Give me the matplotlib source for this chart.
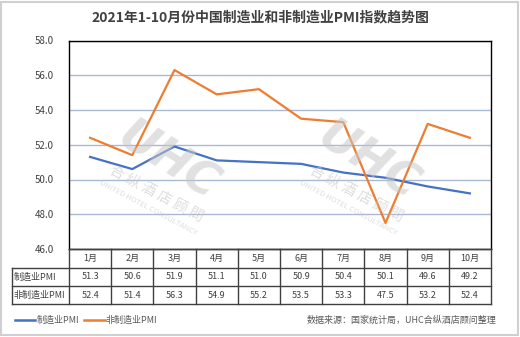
import matplotlib
matplotlib.use("Agg")
import matplotlib.pyplot as plt
from matplotlib.patches import Rectangle

plt.rcParams['font.family'] = ['Noto Sans CJK SC', 'DejaVu Sans']

title = "2021年1-10月份中国制造业和非制造业PMI指数趋势图"
months = ["1月", "2月", "3月", "4月", "5月", "6月", "7月", "8月", "9月", "10月"]
series_names = ["制造业PMI", "非制造业PMI"]
manufacturing = [51.3, 50.6, 51.9, 51.1, 51.0, 50.9, 50.4, 50.1, 49.6, 49.2]
non_manufacturing = [52.4, 51.4, 56.3, 54.9, 55.2, 53.5, 53.3, 47.5, 53.2, 52.4]
y_ticks = [46.0, 48.0, 50.0, 52.0, 54.0, 56.0, 58.0]
source = "数据来源：国家统计局，UHC合纵酒店顾问整理"

colors = ["#4472C4", "#ED7D31"]
W, H = 520, 337
fig = plt.figure(figsize=(W / 100, H / 100), dpi=100)

def fx(px):
    return px / W

def fy(py):
    return 1 - py / H

# outer border
fig.patches.append(Rectangle((fx(1), fy(335)), fx(517), (334 - 1) / H,
                             transform=fig.transFigure, fill=False,
                             edgecolor="#D0D0D0", linewidth=1.5))

fig.text(0.5, fy(17), title, ha="center", va="center", fontsize=10,
         fontweight="bold", color="#404040")

# main axes
L, R, T, B = 69, 491, 40.5, 249
ax = fig.add_axes([fx(L), fy(B), fx(R - L), (B - T) / H])
n = len(months)
xs = [i + 0.5 for i in range(n)]
ax.set_xlim(0, n)
ax.set_ylim(y_ticks[0], y_ticks[-1])
ax.set_yticks(y_ticks)
ax.set_yticklabels([f"{v:.1f}" for v in y_ticks], fontsize=7, color="#404040")
ax.tick_params(axis="y", length=0, pad=11)
ax.set_xticks([])
ax.grid(axis="y", color="#A9B8D3", linewidth=1)
ax.set_axisbelow(True)
for s in ax.spines.values():
    s.set_color("#000000")
    s.set_linewidth(1)

# watermarks
for cx in (168, 368):
    fig.text(fx(cx), fy(162), "UHC", fontsize=33, fontweight="bold",
             fontstyle="italic", color="#C8C8C8", alpha=0.55, rotation=-32,
             ha="center", va="center", family=["DejaVu Sans"])
    fig.text(fx(cx - 12), fy(194), "合 纵 酒 店 顾 問", fontsize=10.5, color="#C8C8C8",
             alpha=0.6, rotation=-28, ha="center", va="center")
    fig.text(fx(cx - 20), fy(208), "UNITED HOTEL CONSULTANCY", fontsize=5.5,
             color="#C8C8C8", alpha=0.6, rotation=-28, ha="center", va="center")

ax.plot(xs, manufacturing, color=colors[0], linewidth=1.6, zorder=3)
ax.plot(xs, non_manufacturing, color=colors[1], linewidth=1.6, zorder=3)

# data table
tax = fig.add_axes([0, 0, 1, 1])
tax.set_xlim(0, W)
tax.set_ylim(H, 0)
tax.axis("off")
tcol = "#404040"
col_w = (R - L) / n
rows_y = [249, 267.5, 286, 304]
left_tab = 12
tax.plot([L, R], [rows_y[0], rows_y[0]], color=tcol, lw=1)
for y in rows_y[1:]:
    tax.plot([left_tab, R], [y, y], color=tcol, lw=1)
for i in range(n + 1):
    x = L + i * col_w
    tax.plot([x, x], [rows_y[0], rows_y[-1]], color=tcol, lw=1)
tax.plot([left_tab, left_tab], [rows_y[1], rows_y[-1]], color=tcol, lw=1)

for i, m in enumerate(months):
    xc = L + (i + 0.5) * col_w
    tax.text(xc, (rows_y[0] + rows_y[1]) / 2, m, ha="center", va="center",
             fontsize=6.5, color=tcol)
    tax.text(xc, (rows_y[1] + rows_y[2]) / 2, f"{manufacturing[i]:.1f}",
             ha="center", va="center", fontsize=6.5, color=tcol)
    tax.text(xc, (rows_y[2] + rows_y[3]) / 2, f"{non_manufacturing[i]:.1f}",
             ha="center", va="center", fontsize=6.5, color=tcol)
for r, name in enumerate(series_names):
    tax.text(left_tab + 1.5, (rows_y[r + 1] + rows_y[r + 2]) / 2, name,
             ha="left", va="center", fontsize=6.5, color=tcol)

# legend
ly = 320
tax.plot([15, 35], [ly, ly], color=colors[0], lw=1.8)
tax.text(36.5, ly, series_names[0], ha="left", va="center", fontsize=6.5, color="#595959")
tax.plot([84, 105], [ly, ly], color=colors[1], lw=1.8)
tax.text(106, ly, series_names[1], ha="left", va="center", fontsize=6.5, color="#595959")

tax.text(496, ly, source, ha="right", va="center", fontsize=6.5, color="#595959")

fig.savefig("out.png", dpi=100, facecolor="white")
